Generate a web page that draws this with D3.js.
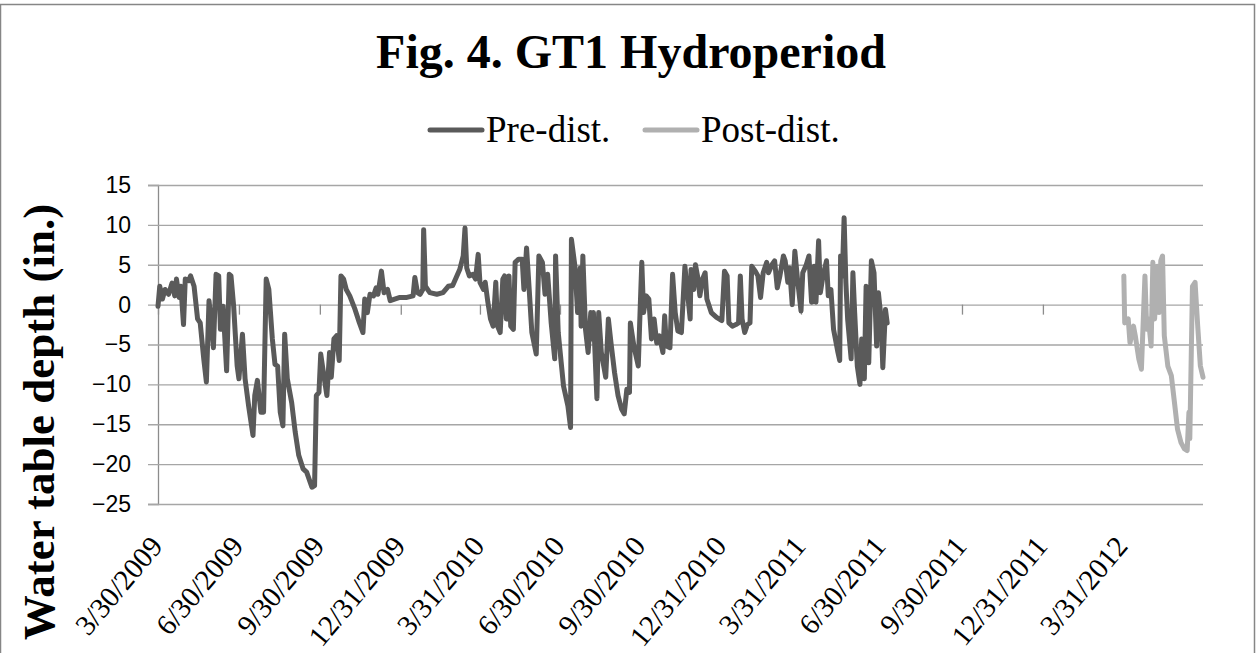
<!DOCTYPE html>
<html>
<head>
<meta charset="utf-8">
<script src="https://cdn.jsdelivr.net/npm/d3@7"></script>
<style>
  body { margin: 0; background: #fff; }
  svg { display: block; }
</style>
</head>
<body>
<script>
// water table depth readings (in.)
var preDates = [
  "2009-03-30","2009-04-01","2009-04-04","2009-04-07","2009-04-11","2009-04-15","2009-04-18","2009-04-20",
  "2009-04-23","2009-04-25","2009-04-28","2009-04-30","2009-05-04","2009-05-06","2009-05-10","2009-05-14",
  "2009-05-17","2009-05-21","2009-05-24","2009-05-27","2009-05-30","2009-06-01","2009-06-04","2009-06-07",
  "2009-06-09","2009-06-12","2009-06-16","2009-06-19","2009-06-21","2009-06-24","2009-06-28","2009-06-30",
  "2009-07-04","2009-07-07","2009-07-11","2009-07-16","2009-07-18","2009-07-21","2009-07-25","2009-07-28",
  "2009-07-31","2009-08-03","2009-08-07","2009-08-10","2009-08-13","2009-08-16","2009-08-19","2009-08-21",
  "2009-08-24","2009-08-29","2009-09-02","2009-09-06","2009-09-11","2009-09-15","2009-09-21","2009-09-24",
  "2009-09-26","2009-09-29","2009-10-01","2009-10-04","2009-10-08","2009-10-11","2009-10-13","2009-10-16",
  "2009-10-19","2009-10-22","2009-10-24","2009-10-27","2009-10-30","2009-11-03","2009-11-09","2009-11-14",
  "2009-11-18","2009-11-20","2009-11-23","2009-11-26","2009-11-30","2009-12-03","2009-12-05","2009-12-09",
  "2009-12-12","2009-12-16","2009-12-19","2009-12-24","2009-12-30","2010-01-07","2010-01-14","2010-01-16",
  "2010-01-19","2010-01-22","2010-01-25","2010-01-26","2010-01-28","2010-02-02","2010-02-10","2010-02-17",
  "2010-02-23","2010-02-28","2010-03-04","2010-03-08","2010-03-12","2010-03-14","2010-03-16","2010-03-19",
  "2010-03-23","2010-03-26","2010-03-29","2010-03-31","2010-04-04","2010-04-06","2010-04-09","2010-04-12",
  "2010-04-15","2010-04-18","2010-04-20","2010-04-23","2010-04-26","2010-04-28","2010-04-30","2010-05-03",
  "2010-05-05","2010-05-08","2010-05-10","2010-05-14","2010-05-18","2010-05-20","2010-05-23","2010-05-26",
  "2010-05-29","2010-06-03","2010-06-06","2010-06-10","2010-06-13","2010-06-16","2010-06-20","2010-06-24",
  "2010-06-25","2010-06-28","2010-07-04","2010-07-09","2010-07-12","2010-07-13","2010-07-17","2010-07-20",
  "2010-07-23","2010-07-24","2010-07-26","2010-07-29","2010-08-01","2010-08-04","2010-08-05","2010-08-07",
  "2010-08-10","2010-08-11","2010-08-13","2010-08-16","2010-08-21","2010-08-24","2010-08-27","2010-08-31",
  "2010-09-04","2010-09-08","2010-09-11","2010-09-14","2010-09-17","2010-09-18","2010-09-22","2010-09-27",
  "2010-09-29","2010-10-01","2010-10-03","2010-10-06","2010-10-09","2010-10-12","2010-10-15","2010-10-18",
  "2010-10-21","2010-10-25","2010-10-27","2010-10-29","2010-11-02","2010-11-05","2010-11-08","2010-11-11",
  "2010-11-15","2010-11-19","2010-11-22","2010-11-25","2010-11-26","2010-11-29","2010-12-01","2010-12-04",
  "2010-12-06","2010-12-09","2010-12-12","2010-12-14","2010-12-19","2010-12-25","2010-12-31","2011-01-03",
  "2011-01-06","2011-01-08","2011-01-12","2011-01-16","2011-01-19","2011-01-21","2011-01-23","2011-01-26",
  "2011-01-29","2011-02-01","2011-02-03","2011-02-07","2011-02-10","2011-02-13","2011-02-16","2011-02-20",
  "2011-02-22","2011-02-26","2011-03-01","2011-03-04","2011-03-07","2011-03-11","2011-03-13","2011-03-16",
  "2011-03-18","2011-03-21","2011-03-24","2011-03-27","2011-03-31","2011-04-02","2011-04-06","2011-04-09",
  "2011-04-12","2011-04-15","2011-04-17","2011-04-20","2011-04-22","2011-04-25","2011-04-29","2011-05-01",
  "2011-05-04","2011-05-07","2011-05-12","2011-05-14","2011-05-15","2011-05-17","2011-05-19","2011-05-21",
  "2011-05-23","2011-05-27","2011-05-29","2011-05-31","2011-06-03","2011-06-06","2011-06-08","2011-06-11",
  "2011-06-13","2011-06-16","2011-06-19","2011-06-22","2011-06-25","2011-06-27","2011-06-30","2011-07-02",
  "2011-07-05","2011-07-07"
];
var preValues = [
  -0.2, 2.3, 0.7, 1.9, 1.3, 2.7, 1.1, 3.2,
  0.9, 2.3, -2.5, 3.2, 3.0, 3.6, 2.3, -1.8,
  -2.3, -6.8, -9.7, 0.5, -2.7, -5.4, 3.8, 3.6,
  -3.1, -0.2, -8.3, 3.8, 3.6, -0.2, -7.7, -9.3,
  -3.7, -9.3, -12.7, -16.4, -11.4, -9.5, -13.5, -13.5,
  3.2, 1.9, -4.3, -7.5, -7.7, -13.5, -15.2, -3.7,
  -9.3, -12.3, -16.0, -18.9, -20.6, -21.0, -22.9, -22.7,
  -11.4, -11.0, -6.2, -8.5, -11.4, -6.0, -9.1, -4.3,
  -3.9, -7.0, 3.6, 3.2, 1.9, 1.1, -0.6, -2.3,
  -3.5, 0.7, -1.0, 1.3, 1.1, 2.1, 1.3, 4.2,
  1.5, 1.9, 0.5, 0.7, 0.9, 0.9, 1.1, 3.4,
  1.5, 1.3, 1.9, 9.4, 2.3, 1.5, 1.3, 1.5,
  2.3, 2.4, 3.4, 4.4, 6.1, 9.6, 4.6, 3.6,
  3.8, 3.2, 6.3, 2.8, 1.9, 2.8, 0.3, -1.8,
  -2.7, 2.8, -2.7, -3.5, 3.2, 3.6, -1.8, 3.6,
  -2.7, -3.1, 5.3, 5.7, 5.7, 1.9, 7.1, 1.9,
  -3.5, -6.2, 6.1, 5.3, 1.3, 3.8, -2.3, -6.8,
  6.1, -3.5, -10.2, -12.7, -15.4, 8.2, 4.8, -1.0,
  4.6, -2.7, 6.1, -3.1, -6.0, -1.0, -4.3, -1.0,
  -9.3, -11.8, -1.0, -6.0, -9.1, -1.8, -4.8, -8.5,
  -11.4, -13.1, -13.7, -10.6, -11.0, -2.3, -5.2, -7.7,
  -1.0, 5.3, -1.0, 1.1, 0.7, -4.3, -1.8, -4.8,
  -3.9, -6.0, -1.4, -5.2, -5.4, 3.8, -1.0, -3.3,
  -3.5, 4.8, 1.5, -1.8, 4.4, 1.9, 5.0, 3.2,
  1.1, 3.2, 4.0, 0.7, -1.0, -1.6, -2.0, 4.2,
  3.6, -2.3, -2.7, -2.5, -2.3, 3.6, -1.8, -3.5,
  -2.5, -2.3, 4.8, 4.2, 3.6, 0.9, 4.0, 5.3,
  4.0, 5.0, 5.5, 2.1, 3.6, 6.1, 5.5, 2.8,
  4.6, 0.0, 6.7, 3.2, -0.8, 4.0, 5.0, 6.1,
  0.3, 4.8, 0.3, 8.0, 1.5, 3.6, 5.5, 1.1,
  1.9, -3.1, -6.0, -7.0, 6.1, 3.6, 10.9, 2.8,
  -1.8, -6.8, 4.0, -1.0, -7.7, -10.0, -4.3, -9.3,
  2.3, -7.3, 5.5, 4.0, -5.2, 1.5, -1.8, -7.9,
  -0.6, -2.3
];
var postDates = [
  "2012-04-01","2012-04-02","2012-04-06","2012-04-08","2012-04-12","2012-04-14","2012-04-18","2012-04-21",
  "2012-04-25","2012-04-27","2012-04-29","2012-05-02","2012-05-04","2012-05-06","2012-05-09","2012-05-11",
  "2012-05-13","2012-05-15","2012-05-17","2012-05-21","2012-05-25","2012-05-29","2012-06-01","2012-06-05",
  "2012-06-09","2012-06-12","2012-06-14","2012-06-15","2012-06-18","2012-06-21","2012-06-24","2012-06-27",
  "2012-06-30"
];
var postValues = [
  3.6, -2.3, -1.8, -4.8, -2.7, -3.9, -6.8, -8.1,
  3.6, -3.1, -1.8, -5.2, 5.3, -1.8, 4.8, -1.0,
  5.5, 6.1, -3.9, -7.7, -8.9, -12.7, -15.6, -17.3,
  -18.1, -18.3, -13.5, -16.8, 2.3, 2.8, -2.7, -7.7,
  -9.1
];
var tickDates = ["2009-03-30","2009-06-30","2009-09-30","2009-12-31","2010-03-31","2010-06-30","2010-09-30",
  "2010-12-31","2011-03-31","2011-06-30","2011-09-30","2011-12-31","2012-03-31"];
var tickLabels = ["3/30/2009","6/30/2009","9/30/2009","12/31/2009","3/31/2010","6/30/2010","9/30/2010",
  "12/31/2010","3/31/2011","6/30/2011","9/30/2011","12/31/2011","3/31/2012"];
var yTicks = [15, 10, 5, 0, -5, -10, -15, -20, -25];
var seriesNames = ["Pre-dist.", "Post-dist."];
var seriesColors = ["#5a5a5a", "#b0b0b0"];

var width = 1259, height = 653;
var margin = {top: 185, right: 56, bottom: 149, left: 158};
var parse = d3.utcParse("%Y-%m-%d");

var svg = d3.select("body").append("svg")
    .attr("width", width)
    .attr("height", height);

svg.append("rect")
    .attr("x", 0.5).attr("y", 4.5)
    .attr("width", 1254).attr("height", 660)
    .attr("fill", "#fff")
    .attr("stroke", "#868686")
    .attr("stroke-width", 1.5);

var x = d3.scaleUtc()
    .domain([parse("2009-03-30"), parse("2012-06-30")])
    .range([margin.left, width - margin.right]);

var y = d3.scaleLinear()
    .domain([-25, 15])
    .range([height - margin.bottom, margin.top]);

// horizontal gridlines + value axis
var yAxis = d3.axisLeft(y).tickValues(yTicks).tickSize(10).tickFormat(d3.format("d"));
var gy = svg.append("g")
    .attr("transform", "translate(" + margin.left + ",0)")
    .call(yAxis);
gy.select(".domain").attr("stroke", "#8c8c8c").attr("stroke-width", 1.3);
gy.selectAll(".tick line").attr("stroke", "#a6a6a6").attr("stroke-width", 1.3)
    .attr("x2", -10).attr("x1", width - margin.right - margin.left);
gy.selectAll(".tick text")
    .attr("x", -27)
    .style("font-family", "'Liberation Sans', Arial, sans-serif")
    .style("font-size", "23px")
    .attr("fill", "#000");

// category ticks hang from the zero line
var gx = svg.append("g")
    .attr("transform", "translate(0," + y(0) + ")")
    .call(d3.axisBottom(x).tickValues(tickDates.map(parse)).tickSize(10).tickFormat(""));
gx.select(".domain").remove();
gx.selectAll(".tick line").attr("stroke", "#8c8c8c").attr("stroke-width", 1.3);

// rotated date labels below the plot
svg.append("g").selectAll("text")
    .data(tickDates)
  .enter().append("text")
    .attr("transform", function(d) {
      return "translate(" + (x(parse(d)) + 6) + ",547) rotate(-50)";
    })
    .attr("text-anchor", "end")
    .style("font-family", "'Liberation Serif', 'Times New Roman', serif")
    .style("font-size", "29px")
    .text(function(d, i) { return tickLabels[i]; });

var line = d3.line()
    .x(function(d) { return x(d.date); })
    .y(function(d) { return y(d.value); });

var series = [
  preDates.map(function(d, i) { return {date: parse(d), value: preValues[i]}; }),
  postDates.map(function(d, i) { return {date: parse(d), value: postValues[i]}; })
];

svg.selectAll(".series")
    .data(series)
  .enter().append("path")
    .attr("class", "series")
    .attr("d", line)
    .attr("fill", "none")
    .attr("stroke", function(d, i) { return seriesColors[i]; })
    .attr("stroke-width", 5)
    .attr("stroke-linejoin", "round")
    .attr("stroke-linecap", "round");

// title
svg.append("text")
    .attr("x", 631).attr("y", 68)
    .attr("text-anchor", "middle")
    .style("font-family", "'Liberation Serif', 'Times New Roman', serif")
    .style("font-weight", "bold")
    .style("font-size", "48px")
    .text("Fig. 4. GT1 Hydroperiod");

// axis title
svg.append("text")
    .attr("transform", "translate(54,422) rotate(-90)")
    .attr("text-anchor", "middle")
    .style("font-family", "'Liberation Serif', 'Times New Roman', serif")
    .style("font-weight", "bold")
    .style("font-size", "45px")
    .text("Water table depth (in.)");

// legend
var legendX = [430, 645];
var legend = svg.append("g").selectAll("g")
    .data(seriesNames)
  .enter().append("g")
    .attr("transform", function(d, i) { return "translate(" + legendX[i] + ",130)"; });
legend.append("line")
    .attr("x1", 0).attr("x2", 52)
    .attr("stroke", function(d, i) { return seriesColors[i]; })
    .attr("stroke-width", 5)
    .attr("stroke-linecap", "round");
legend.append("text")
    .attr("x", 56).attr("y", 12)
    .style("font-family", "'Liberation Serif', 'Times New Roman', serif")
    .style("font-size", "37px")
    .text(function(d) { return d; });
</script>
</body>
</html>
